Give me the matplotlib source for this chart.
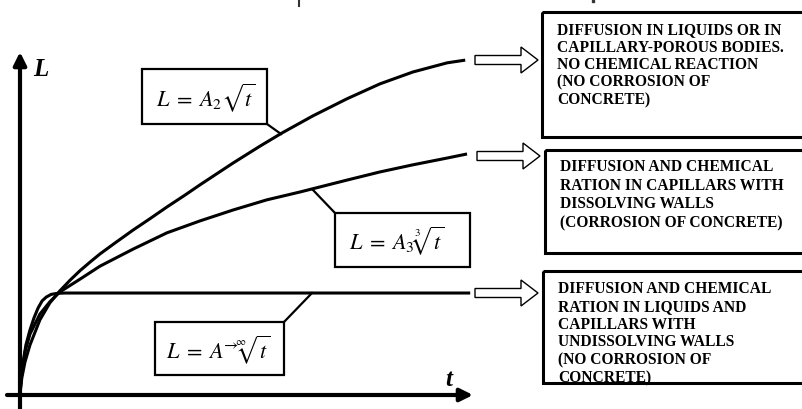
import numpy as np
import matplotlib
matplotlib.use("Agg")
import matplotlib.pyplot as plt
from matplotlib.patches import Rectangle, FancyArrow

plt.rcParams["mathtext.fontset"] = "stix"
SERIF = ["Liberation Serif", "DejaVu Serif"]

# curves, t and L normalised to the drawn axes (0..1)
t_sqrt = [0, 0.004, 0.011, 0.022, 0.044, 0.066, 0.088, 0.111, 0.133, 0.155,
          0.177, 0.210, 0.250, 0.288, 0.325, 0.365, 0.398, 0.471, 0.531, 0.580,
          0.648, 0.723, 0.796, 0.869, 0.945, 0.985]
L_sqrt = [0, 0.047, 0.094, 0.144, 0.218, 0.268, 0.303, 0.335, 0.363, 0.388,
          0.412, 0.444, 0.482, 0.516, 0.550, 0.585, 0.615, 0.679, 0.729, 0.768,
          0.818, 0.868, 0.912, 0.947, 0.974, 0.982]

t_cbrt = [0, 0.004, 0.011, 0.022, 0.044, 0.066, 0.088, 0.133, 0.177, 0.250,
          0.325, 0.398, 0.471, 0.546, 0.619, 0.723, 0.796, 0.869, 0.945, 0.989]
L_cbrt = [0, 0.065, 0.124, 0.176, 0.235, 0.271, 0.300, 0.338, 0.376, 0.426,
          0.474, 0.509, 0.541, 0.571, 0.594, 0.629, 0.653, 0.674, 0.694, 0.706]

t_sat = [0, 0.002, 0.007, 0.013, 0.022, 0.031, 0.040, 0.049, 0.058, 0.069,
         0.082, 0.100, 0.996]
L_sat = [0, 0.047, 0.094, 0.144, 0.188, 0.224, 0.253, 0.274, 0.285, 0.293,
         0.296, 0.297, 0.297]

formulas = [r"$L\;=\;A_2\sqrt{t}$", r"$L\;=\;A_3\sqrt[3]{t}$",
            r"$L\;=\;A^{\!\!\rightarrow}\!\!\sqrt[\infty]{t}$"]

desc_A = ["DIFFUSION IN LIQUIDS OR IN", "CAPILLARY-POROUS BODIES.",
          "NO CHEMICAL REACTION", "(NO CORROSION OF", "CONCRETE)"]
desc_B = ["DIFFUSION AND CHEMICAL", "RATION IN CAPILLARS WITH",
          "DISSOLVING WALLS", "(CORROSION OF CONCRETE)"]
desc_C = ["DIFFUSION AND CHEMICAL", "RATION IN LIQUIDS AND",
          "CAPILLARS WITH", "UNDISSOLVING WALLS", "(NO CORROSION OF",
          "CONCRETE)"]

W, H = 803, 409
fig = plt.figure(figsize=(W / 100, H / 100), dpi=100, facecolor="white")

# pixel-space overlay for the schematic
ov = fig.add_axes([0, 0, 1, 1])
ov.set_xlim(0, W)
ov.set_ylim(H, 0)
ov.axis("off")

# data axes (origin at pixel 20,394)
x0, y0, aw, ah = 20, 394, 452, 340
ax = fig.add_axes([x0 / W, (H - y0) / H, aw / W, ah / H])
ax.set_xlim(0, 1)
ax.set_ylim(0, 1)
ax.axis("off")
ax.patch.set_alpha(0)
for tt, LL in [(t_sqrt, L_sqrt), (t_cbrt, L_cbrt), (t_sat, L_sat)]:
    ax.plot(tt, LL, color="black", lw=2.2, solid_capstyle="butt",
            solid_joinstyle="round", clip_on=False)

# coordinate arrows
ov.annotate("", xy=(20, 52), xytext=(20, 409),
            arrowprops=dict(arrowstyle="-|>", lw=3, color="black",
                            mutation_scale=19, shrinkA=0, shrinkB=0))
ov.annotate("", xy=(473, 395), xytext=(7, 395),
            arrowprops=dict(arrowstyle="-|>", lw=3, color="black",
                            mutation_scale=19, shrinkA=0, shrinkB=0))
ov.text(41, 69, "L", fontsize=18, fontweight="bold", fontstyle="italic",
        family=SERIF, ha="center", va="center")
ov.text(449, 380, "t", fontsize=18, fontweight="bold", fontstyle="italic",
        family=SERIF, ha="center", va="center")

# formula boxes with leader lines
boxes = [(142, 69, 267, 124), (335, 213, 470, 267), (155, 322, 284, 375)]
fx = [206, 397, 218]
leaders = [((267, 124), (281, 134)), ((335, 213), (313, 190)),
           ((284, 322), (312, 293))]
for (bx0, by0, bx1, by1), f, cx, (p, q) in zip(boxes, formulas, fx, leaders):
    ov.add_patch(Rectangle((bx0, by0), bx1 - bx0, by1 - by0, fill=False,
                           lw=1.6, ec="black"))
    ov.text(cx, (by0 + by1) / 2 + 1, f, fontsize=16,
            ha="center", va="center")
    ov.plot([p[0], q[0]], [p[1], q[1]], color="black", lw=1.6)

# hollow arrows to description boxes
for ax0, ax1, ay in [(475, 538, 60), (477, 540, 156), (475, 538, 293)]:
    ov.add_patch(FancyArrow(ax0, ay, ax1 - ax0, 0, width=9, head_width=26,
                            head_length=17, length_includes_head=True,
                            fill=False, lw=1.0, ec="black"))

# description boxes
dboxes = [(542, 12, 137), (545, 150, 253), (543, 271, 383)]
texts = [(desc_A, 557, 30, 17.6), (desc_B, 560, 167, 18.7),
         (desc_C, 558, 289, 17.8)]
for (bx0, by0, by1), (lines, tx, ty, dy) in zip(dboxes, texts):
    ov.add_patch(Rectangle((bx0, by0), 820 - bx0, by1 - by0, fill=False,
                           lw=2.2, ec="black"))
    for i, line in enumerate(lines):
        ov.text(tx, ty + i * dy, line, fontsize=11.2, fontweight="bold",
                family=SERIF, ha="left", va="center")

# stray marks at top
ov.plot([299, 299], [0, 6], color="#333333", lw=1.5)
ov.plot([593], [1], marker="s", ms=1.5, color="#333333")

fig.savefig("out.png", dpi=100, facecolor="white")
